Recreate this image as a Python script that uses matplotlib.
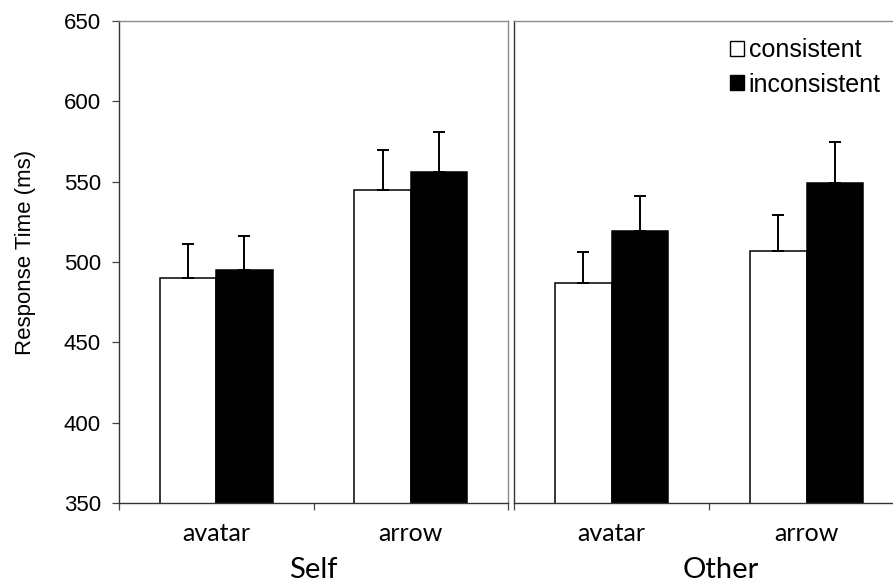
import numpy as np
import matplotlib.pyplot as plt
from matplotlib.patches import Patch

# values
panels = ['Self', 'Other']
categories = ['avatar', 'arrow']
conditions = ['consistent', 'inconsistent']

self_consistent = [490, 545]
self_inconsistent = [495, 556]
self_consistent_se = [21, 25]
self_inconsistent_se = [21, 25]

other_consistent = [487, 507]
other_inconsistent = [519, 549]
other_consistent_se = [19, 22]
other_inconsistent_se = [22, 26]

yticks = [350, 400, 450, 500, 550, 600, 650]

W, H = 893, 584
fig = plt.figure(figsize=(W / 100, H / 100), dpi=100)

def px_axes(x0, x1, y0, y1):
    return fig.add_axes([x0 / W, 1 - y1 / H, (x1 - x0) / W, (y1 - y0) / H])

ax1 = px_axes(119, 508, 21, 503)
ax2 = px_axes(514, 904, 21, 503)

data = [
    (ax1, self_consistent, self_consistent_se, self_inconsistent, self_inconsistent_se),
    (ax2, other_consistent, other_consistent_se, other_inconsistent, other_inconsistent_se),
]

bw = 0.29
x = np.arange(len(categories))
cat_font = ['Lato', 'DejaVu Sans']
arial = ['Liberation Sans', 'DejaVu Sans']
label_x = [0.5, 0.53]

for i, (ax, c, cse, inc, incse) in enumerate(data):
    ax.bar(x - bw / 2, c, bw, color='white', edgecolor='black', linewidth=1.1, zorder=2)
    ax.bar(x + bw / 2, inc, bw, color='black', edgecolor='black', linewidth=1.1, zorder=2)
    ax.errorbar(x - bw / 2, c, yerr=[np.zeros(len(c)), cse], fmt='none', ecolor='black',
                elinewidth=1.4, capsize=4.5, capthick=1.4, zorder=3)
    ax.errorbar(x + bw / 2, inc, yerr=[np.zeros(len(inc)), incse], fmt='none', ecolor='black',
                elinewidth=1.4, capsize=4.5, capthick=1.4, zorder=1)
    ax.set_ylim(350, 650)
    ax.set_xlim(-0.5, len(categories) - 0.5)

    # category boundaries carry the tick marks, centres carry the labels
    ax.set_xticks(np.arange(len(categories) + 1) - 0.5)
    ax.set_xticklabels([])
    ax.set_xticks(x, minor=True)
    ax.set_xticklabels(categories, minor=True, fontsize=18, family=cat_font)
    ax.tick_params(axis='x', which='major', direction='out', length=5, width=0.9, color='#444444')
    ax.tick_params(axis='x', which='minor', length=0, pad=14)
    ax.set_xlabel(panels[i], fontsize=21, family=cat_font)
    ax.xaxis.set_label_coords(label_x[i], -0.113)

    for side in ['left', 'bottom']:
        ax.spines[side].set_color('#333333')
        ax.spines[side].set_linewidth(1.0)
    for side in ['top', 'right']:
        ax.spines[side].set_color('#8a8a8a')
        ax.spines[side].set_linewidth(1.0)

ax1.set_yticks(yticks)
ax1.tick_params(axis='y', direction='out', length=5, width=0.9, color='#444444',
                labelsize=16, pad=8)
for lab in ax1.get_yticklabels():
    lab.set_family(arial)
ax1.set_ylabel('Response Time (ms)', fontsize=16, family=arial, labelpad=20)
ax1.yaxis.label.set_y(0.52)

ax2.set_yticks([])

handles = [Patch(facecolor='white', edgecolor='black', linewidth=1.0),
           Patch(facecolor='black', edgecolor='black', linewidth=1.0)]
fig.legend(handles, conditions, loc='upper left', bbox_to_anchor=(730 / W, 1 - 38 / H),
           frameon=False, prop={'family': arial, 'size': 18},
           handlelength=0.55, handleheight=0.55, handletextpad=0.2, labelspacing=0.42,
           borderpad=0, borderaxespad=0)

fig.savefig('out.png', dpi=100)
